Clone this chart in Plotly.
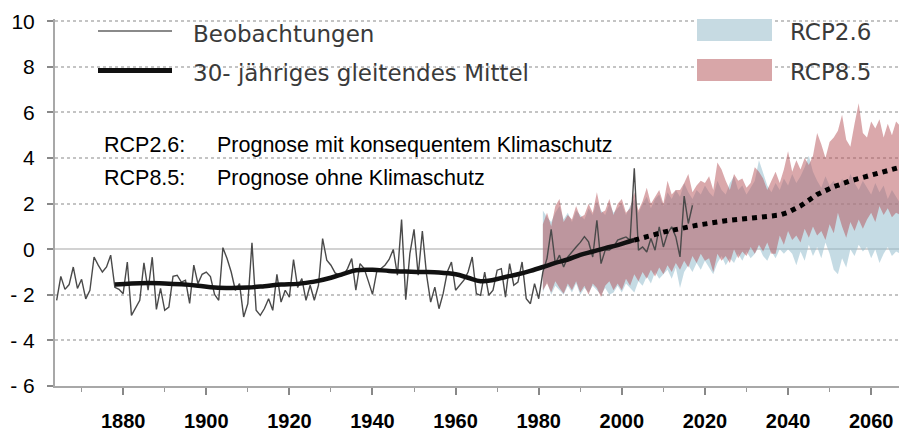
import plotly.graph_objects as go

# ---------------- data ----------------
obs_years = list(range(1864, 2018))
obs_values = [
    -2.24, -1.19, -1.76, -1.55, -0.78, -1.72, -1.32, -2.18, -1.80, -0.34,
    -0.70, -1.00, -0.78, -0.26, -1.67, -1.76, -1.95, -0.56, -2.90, -2.54,
    -2.24, -0.60, -1.80, -0.35, -2.64, -1.72, -2.68, -2.54, -1.19, -1.14,
    -1.44, -1.36, -2.38, -0.70, -1.51, -1.10, -1.00, -1.20, -1.98, -2.24,
    0.07, -0.41, -1.00, -1.80, -1.51, -2.97, -2.39, 0.28, -2.68, -2.90,
    -2.60, -2.17, -2.68, -1.10, -2.32, -1.80, -2.10, -0.45, -1.68, -1.29,
    -2.24, -1.58, -2.24, -1.58, 0.47, -0.48, -0.70, -1.04, -1.14, -1.14,
    -0.85, -0.41, -1.80, -0.63, -0.85, -1.40, -1.98, -1.00, -0.85, -0.70,
    -0.45, -0.01, -1.14, 1.30, -2.21, -0.19, 0.87, -1.14, 0.80, -1.10,
    -2.32, -1.66, -2.61, -1.95, -1.00, -0.56, -1.80, -1.58, -1.36, -1.00,
    -0.34, -1.95, -2.02, -1.00, -2.02, -1.80, -0.92, -0.85, -2.10, -0.63,
    -1.58, -1.44, -0.56, -2.17, -2.39, -1.51, -2.17, -1.00, -0.40, 0.87,
    -0.63, -0.26, -0.78, -0.34, -0.10, 0.10, 0.30, 0.55, 0.32, -0.34,
    1.27, -0.63, -0.04, -0.04, 0.10, 0.40, 0.47, 0.54, 0.40, 3.55,
    -0.04, 0.10, -0.12, 0.47, -0.04, 0.98, 0.10, 0.69, 0.98, 0.54,
    -0.34, 2.33, 1.13, 1.93,
]

ma_years = [1878, 1882, 1886, 1890, 1894, 1898, 1902, 1906, 1910, 1914, 1918,
            1922, 1926, 1930, 1933, 1936, 1940, 1944, 1948, 1952, 1956, 1960,
            1963, 1966, 1969, 1972, 1975, 1978, 1981, 1984, 1987, 1990, 1993,
            1996, 1999, 2002, 2003]
ma_values = [-1.55, -1.50, -1.48, -1.50, -1.54, -1.60, -1.68, -1.70, -1.68,
             -1.62, -1.55, -1.52, -1.42, -1.25, -1.08, -0.92, -0.90, -0.95,
             -0.98, -1.00, -1.02, -1.10, -1.25, -1.40, -1.35, -1.22, -1.10,
             -0.95, -0.78, -0.60, -0.45, -0.25, -0.10, 0.05, 0.18, 0.35, 0.40]

proj_years = [2003, 2010, 2018, 2025, 2032, 2038, 2040, 2043, 2047, 2051,
              2055, 2059, 2067]
proj_values = [0.40, 0.75, 1.05, 1.25, 1.38, 1.50, 1.62, 1.90, 2.40, 2.74,
               3.00, 3.20, 3.60]

scen_years = list(range(1981, 2068))
rcp85_upper = [
    1.1, 1.6, 1.0, 1.9, 2.2, 1.2, 1.5, 1.3, 1.9, 1.4,
    1.5, 2.0, 1.6, 2.5, 1.6, 1.7, 2.2, 1.5, 2.0, 2.2,
    1.6, 1.8, 2.5, 1.7, 2.1, 2.7, 2.0, 2.3, 2.6, 2.0,
    3.0, 2.4, 2.6, 2.6, 2.9, 3.3, 2.5, 2.8, 3.0, 2.9,
    3.2, 2.6, 3.8, 3.5, 3.0, 2.6, 3.3, 3.0, 3.1, 2.7,
    2.9, 3.6, 3.4, 3.1, 2.6, 3.0, 3.4, 2.9, 3.5, 4.3,
    3.4, 3.9, 3.5, 4.0, 3.7, 4.1, 5.1, 4.6, 4.0, 4.7,
    4.9, 5.2, 5.9, 4.8, 4.5, 5.5, 6.4, 5.1, 4.9, 5.6,
    5.3, 5.7, 4.9, 5.5, 5.0, 5.6, 5.4,
]
rcp85_lower = [
    -1.8, -1.5, -1.9, -1.4, -1.7, -1.95, -1.5, -1.8, -1.4, -1.9,
    -1.6, -2.0, -1.5, -1.7, -2.1, -1.6, -1.4, -1.8, -1.5, -1.8,
    -1.3, -1.6, -1.1, -1.4, -1.0, -1.3, -0.9, -1.2, -0.8, -1.1,
    -0.7, -1.0, -0.6, -0.9, -0.5, -0.8, -0.3, -0.6, -0.2, -0.5,
    -0.4, -1.0, -0.2, -0.5, -0.3, -0.6, 0.0, -0.4, -0.1, -0.3,
    0.1, -0.2, 0.2, -0.1, 0.3, -0.2, -0.2, 0.6, 0.2, 0.8,
    0.4, 0.6, 0.3, 0.9, 0.5, 1.0, 0.6, 0.8, 0.4, 1.1,
    0.7, 1.6, 1.0, 0.5, 1.2, 0.8, 1.3, 0.9, 1.3, 1.6,
    1.2, 1.9, 1.5, 1.8, 1.4, 1.6, 1.5,
]
rcp26_upper = [
    1.7, 1.4, 1.2, 1.6, 1.9, 1.3, 1.6, 1.2, 1.7, 1.5,
    1.3, 1.8, 1.5, 2.1, 1.7, 1.5, 2.0, 1.6, 1.8, 2.0,
    1.5, 1.9, 2.2, 1.6, 2.0, 2.3, 1.8, 2.2, 2.4, 1.9,
    2.5, 2.2, 2.6, 2.3, 2.9, 2.5, 2.2, 2.6, 2.4, 2.8,
    2.5, 2.3, 3.0, 2.6, 2.4, 2.9, 3.2, 2.6, 2.8, 2.4,
    2.7, 3.0, 3.9, 3.3, 2.8, 2.5, 2.9, 2.6, 3.1, 2.8,
    3.3, 2.9, 3.2, 3.6, 4.1, 3.4, 3.0, 2.7, 3.2, 2.8,
    3.0, 2.6, 3.1, 2.7, 3.3, 2.9, 2.6, 3.0, 2.7, 2.4,
    2.9, 2.5, 2.8, 2.2, 2.6, 2.3, 2.0,
]
rcp26_lower = [
    -1.9, -1.4, -2.0, -1.6, -1.8, -2.0, -1.6, -1.9, -1.5, -2.0,
    -1.7, -1.9, -1.6, -1.8, -2.0, -1.7, -2.0, -1.9, -1.6, -1.9,
    -1.5, -1.7, -1.9, -1.4, -1.6, -1.2, -1.5, -1.0, -1.3, -1.1,
    -0.9, -1.3, -0.8, -1.7, -1.0, -0.7, -1.0, -0.6, -0.9, -0.5,
    -0.8, -1.1, -0.6, -0.3, -0.7, -0.4, -0.6, -0.2, -0.5, -0.1,
    -0.4, -0.2, 0.1, -0.3, -0.5, -0.1, -0.4, 0.0, -0.2, 0.0,
    -0.2, -0.7, -0.1, -0.5, 0.2, -0.3, 0.1, -0.4, 0.3, -0.2,
    -0.9, -1.1, -0.4, -0.8, 0.0, -0.3, 0.2, -0.1, 0.1, -0.4,
    0.0, -0.6, -0.2, 0.1, -0.3, -0.1, -0.2,
]

y_tick_vals = [-6, -4, -2, 0, 2, 4, 6, 8, 10]
y_tick_text = ["- 6", "- 4", "- 2", "0", "2", "4", "6", "8", "10"]
x_tick_vals = [1880, 1900, 1920, 1940, 1960, 1980, 2000, 2020, 2040, 2060]

legend_obs = "Beobachtungen"
legend_ma = "30- jähriges gleitendes Mittel"
legend_26 = "RCP2.6"
legend_85 = "RCP8.5"
note_labels = ["RCP2.6:", "RCP8.5:"]
note_texts = ["Prognose mit konsequentem Klimaschutz", "Prognose ohne Klimaschutz"]

# ---------------- layout geometry ----------------
W, H = 899, 432
ML, MR, MT, MB = 55, 0, 19, 46
PW, PH = W - ML - MR, H - MT - MB


def px(x):
    return (x - ML) / PW


def py(y):
    return (H - MB - y) / PH


BLUE_FILL = "rgba(150,190,206,0.55)"
RED_FILL = "rgba(182,82,88,0.5)"

fig = go.Figure()

fig.add_trace(go.Scatter(
    x=scen_years + scen_years[::-1], y=rcp26_upper + rcp26_lower[::-1],
    fill="toself", fillcolor=BLUE_FILL, line=dict(width=0), mode="lines",
    hoverinfo="skip", showlegend=False))
fig.add_trace(go.Scatter(
    x=scen_years + scen_years[::-1], y=rcp85_upper + rcp85_lower[::-1],
    fill="toself", fillcolor=RED_FILL, line=dict(width=0), mode="lines",
    hoverinfo="skip", showlegend=False))
fig.add_trace(go.Scatter(
    x=obs_years, y=obs_values, mode="lines",
    line=dict(color="#4a4a4a", width=1.4), showlegend=False))
fig.add_trace(go.Scatter(
    x=ma_years, y=ma_values, mode="lines", line_shape="spline",
    line=dict(color="#111111", width=4.5), showlegend=False))
fig.add_trace(go.Scatter(
    x=proj_years, y=proj_values, mode="lines",
    line=dict(color="#000000", width=5, dash="dot"), showlegend=False))

shapes = [
    # white legend background hiding the upper grid lines
    dict(type="rect", xref="paper", yref="paper", x0=px(80), x1=1.0,
         y0=py(88), y1=1.0, fillcolor="white", line=dict(width=0),
         layer="between"),
    # legend samples
    dict(type="line", xref="paper", yref="paper", x0=px(98), x1=px(172),
         y0=py(31), y1=py(31), line=dict(color="#8a8a8a", width=2)),
    dict(type="line", xref="paper", yref="paper", x0=px(98), x1=px(172),
         y0=py(70.5), y1=py(70.5), line=dict(color="#111111", width=5)),
    dict(type="rect", xref="paper", yref="paper", x0=px(697), x1=px(772),
         y0=py(41), y1=py(19), fillcolor="rgb(198,218,226)",
         line=dict(width=0)),
    dict(type="rect", xref="paper", yref="paper", x0=px(697), x1=px(772),
         y0=py(81), y1=py(59), fillcolor="rgb(216,166,168)",
         line=dict(width=0)),
]

leg_font = dict(family="DejaVu Sans", size=23, color="#3a3a3a")
note_font = dict(family="Liberation Sans, Arial", size=21.5, color="#000000")
annotations = [
    dict(text=legend_obs, x=px(191), y=py(34), xref="paper", yref="paper",
         xanchor="left", yanchor="middle", showarrow=False, font=leg_font),
    dict(text=legend_ma, x=px(191), y=py(73), xref="paper", yref="paper",
         xanchor="left", yanchor="middle", showarrow=False, font=leg_font),
    dict(text=legend_26, x=px(788), y=py(32), xref="paper", yref="paper",
         xanchor="left", yanchor="middle", showarrow=False, font=leg_font),
    dict(text=legend_85, x=px(788), y=py(72), xref="paper", yref="paper",
         xanchor="left", yanchor="middle", showarrow=False, font=leg_font),
]
for i, (lab, txt) in enumerate(zip(note_labels, note_texts)):
    yy = 145 + i * 33
    annotations.append(dict(text=lab, x=px(102), y=py(yy), xref="paper",
                            yref="paper", xanchor="left", yanchor="middle",
                            showarrow=False, font=note_font))
    annotations.append(dict(text=txt, x=px(215), y=py(yy), xref="paper",
                            yref="paper", xanchor="left", yanchor="middle",
                            showarrow=False, font=note_font))

fig.update_layout(
    width=W, height=H,
    margin=dict(l=ML, r=MR, t=MT, b=MB, pad=0),
    paper_bgcolor="white", plot_bgcolor="white",
    showlegend=False,
    shapes=shapes, annotations=annotations,
    xaxis=dict(
        range=[1863.6, 2066.7], tickvals=x_tick_vals,
        showgrid=False, zeroline=False,
        showline=True, linecolor="#a8a8a8", linewidth=2,
        ticks="outside", ticklen=7, tickwidth=1.5, tickcolor="#888888",
        minor=dict(dtick=10, tick0=1870, ticks="outside", ticklen=4,
                   tickwidth=1.2, tickcolor="#999999", showgrid=False),
        ticklabelstandoff=9,
        tickfont=dict(family="Liberation Sans, Arial", size=20,
                      color="#000000", weight="bold"),
    ),
    yaxis=dict(
        range=[-6, 10.1], tickvals=y_tick_vals, ticktext=y_tick_text,
        showgrid=True, gridcolor="#c4c4c4", gridwidth=1.5, griddash="dot",
        zeroline=True, zerolinecolor="#d2d2d2", zerolinewidth=2,
        showline=True, linecolor="#a8a8a8", linewidth=2,
        ticks="outside", ticklen=6, tickwidth=1.5, tickcolor="#888888",
        ticklabelstandoff=8,
        tickfont=dict(family="Liberation Sans, Arial", size=21,
                      color="#000000"),
    ),
)

fig.write_html(
    "out.html",
    config={"displayModeBar": False},
    post_script="document.body.style.margin='0px';document.body.style.padding='0px';",
)
